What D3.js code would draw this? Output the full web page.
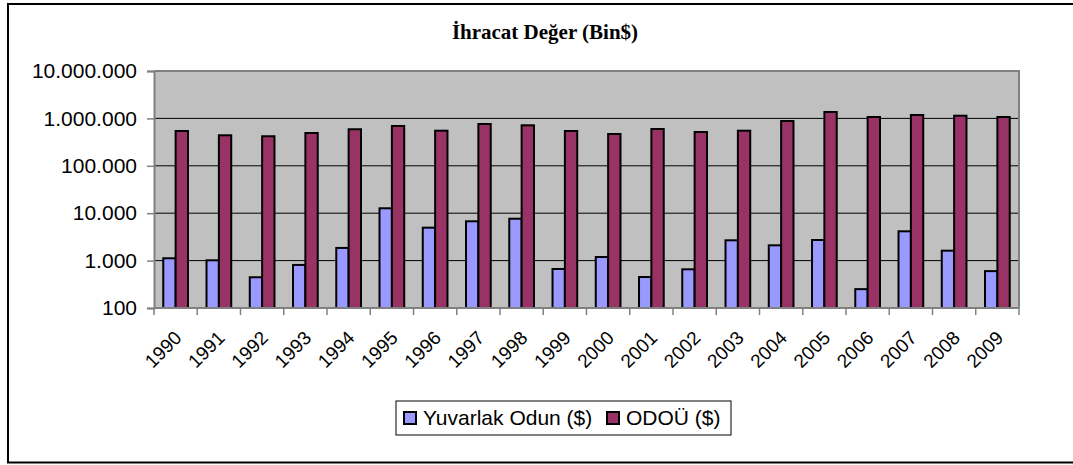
<!DOCTYPE html>
<html>
<head>
<meta charset="utf-8">
<script src="https://cdn.jsdelivr.net/npm/d3@7"></script>
<style>
  body { margin: 0; background: #fff; overflow: hidden; }
  svg { display: block; }
</style>
</head>
<body>
<svg width="1073" height="465"></svg>
<script>
// Veriler
const years = ["1990","1991","1992","1993","1994","1995","1996","1997","1998","1999",
               "2000","2001","2002","2003","2004","2005","2006","2007","2008","2009"];
const yuvarlakOdun = [1120,1015,445,810,1850,12700,4950,6750,7650,665,
                      1190,450,655,2680,2100,2720,250,4150,1620,600];
const odou = [542000,440000,420000,492000,590000,692000,550000,762000,715000,542000,
              469000,597000,516000,550000,881000,1365000,1070000,1180000,1140000,1070000];
const seriesNames = ["Yuvarlak Odun ($)", "ODOÜ ($)"];
const seriesColors = ["#9999FF", "#993366"];
const yTicks = [100,1000,10000,100000,1000000,10000000];

const svg = d3.select("svg");
const sans = "Arial, 'Liberation Sans', sans-serif";

// dış çerçeve
svg.append("rect")
    .attr("x", 8).attr("y", 4)
    .attr("width", 1100).attr("height", 458.5)
    .attr("fill", "#fff").attr("stroke", "#000").attr("stroke-width", 2);

// başlık
svg.append("text")
    .attr("x", 545).attr("y", 39)
    .attr("text-anchor", "middle")
    .attr("font-family", "'Liberation Serif', 'Times New Roman', serif")
    .attr("font-weight", "bold")
    .attr("font-size", 21)
    .text("İhracat Değer (Bin$)");

const plot = {left: 154, right: 1019, top: 71, bottom: 308};

let x = d3.scaleBand()
    .domain(years)
    .range([plot.left, plot.right]);

let y = d3.scaleLog()
    .domain([100, 10000000])
    .range([plot.bottom, plot.top]);

// gri alan
svg.append("rect")
    .attr("x", plot.left).attr("y", plot.top)
    .attr("width", plot.right - plot.left).attr("height", plot.bottom - plot.top)
    .attr("fill", "#C0C0C0");

// yatay çizgiler
svg.append("g")
    .selectAll("line")
    .data(yTicks.slice(1, -1))
    .join("line")
    .attr("x1", plot.left).attr("x2", plot.right)
    .attr("y1", d => y(d)).attr("y2", d => y(d))
    .attr("stroke", "#000").attr("stroke-width", 1);

// çubuklar
const bw = x.bandwidth() / 3.5;
const data = years.map((yr, i) => ({year: yr, values: [yuvarlakOdun[i], odou[i]]}));

svg.append("g")
    .selectAll("g")
    .data(data)
    .join("g")
    .selectAll("rect")
    .data(d => d.values.map((v, k) => ({year: d.year, v: v, k: k})))
    .join("rect")
    .attr("x", d => x(d.year) + bw * 0.75 + d.k * bw)
    .attr("y", d => y(d.v))
    .attr("width", bw)
    .attr("height", d => plot.bottom - y(d.v))
    .attr("fill", d => seriesColors[d.k])
    .attr("stroke", "#000")
    .attr("stroke-width", 2);

// plot çerçevesi (üst ve sağ)
svg.append("path")
    .attr("d", `M${plot.left},${plot.top}H${plot.right}V${plot.bottom}`)
    .attr("fill", "none").attr("stroke", "#808080").attr("stroke-width", 2);

// y ekseni
const fmt = d => d3.format(",")(d).replace(/,/g, ".");
const yAxis = svg.append("g")
    .attr("transform", `translate(${plot.left},0)`)
    .call(d3.axisLeft(y).tickValues(yTicks).tickFormat(fmt).tickSize(7).tickPadding(10));
yAxis.select(".domain").attr("stroke", "#808080").attr("stroke-width", 2);
yAxis.selectAll(".tick line").attr("stroke", "#808080").attr("stroke-width", 1.5);
yAxis.selectAll("text")
    .attr("font-family", sans)
    .attr("font-size", 21)
    .attr("fill", "#000");

// x ekseni
const xTickPos = d3.range(years.length + 1).map(i => plot.left + i * x.step());
svg.append("line")
    .attr("x1", plot.left).attr("x2", plot.right)
    .attr("y1", plot.bottom).attr("y2", plot.bottom)
    .attr("stroke", "#808080").attr("stroke-width", 2);
svg.append("g")
    .selectAll("line")
    .data(xTickPos)
    .join("line")
    .attr("x1", d => d).attr("x2", d => d)
    .attr("y1", plot.bottom).attr("y2", plot.bottom + 7)
    .attr("stroke", "#808080").attr("stroke-width", 1.5);

svg.append("g")
    .selectAll("text")
    .data(years)
    .join("text")
    .attr("transform", d => `translate(${x(d) + x.bandwidth() / 2 + 7},339) rotate(-45)`)
    .attr("text-anchor", "end")
    .attr("font-family", sans)
    .attr("font-size", 19)
    .text(d => d);

// lejant
const lg = svg.append("g");
lg.append("rect")
    .attr("x", 396).attr("y", 401)
    .attr("width", 335).attr("height", 34)
    .attr("fill", "#fff").attr("stroke", "#000").attr("stroke-width", 1);
const legendX = [404, 607];
seriesNames.forEach((name, k) => {
    lg.append("rect")
        .attr("x", legendX[k]).attr("y", 412)
        .attr("width", 12).attr("height", 12)
        .attr("fill", seriesColors[k]).attr("stroke", "#000").attr("stroke-width", 2);
    lg.append("text")
        .attr("x", legendX[k] + 19).attr("y", 425)
        .attr("font-family", sans)
        .attr("font-size", 21)
        .text(name);
});
</script>
</body>
</html>
